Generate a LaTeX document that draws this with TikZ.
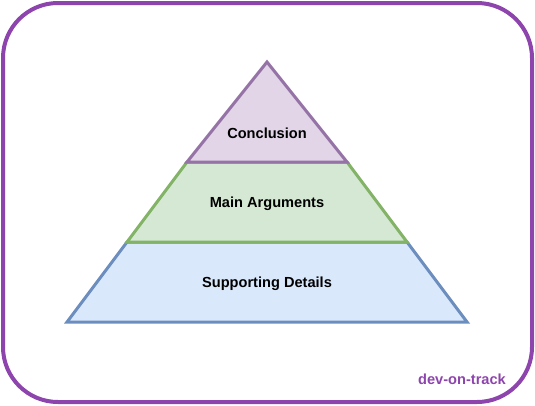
\documentclass[tikz,border=0pt]{standalone}
\usepackage{fontspec}
\setmainfont{Liberation Sans}
\usetikzlibrary{calc}
\definecolor{PyrFrame}{HTML}{8E44AD}
\definecolor{PyrTopFill}{HTML}{E1D5E7}
\definecolor{PyrTopLine}{HTML}{9673A6}
\definecolor{PyrMidFill}{HTML}{D5E8D4}
\definecolor{PyrMidLine}{HTML}{82B366}
\definecolor{PyrLowFill}{HTML}{DAE8FC}
\definecolor{PyrLowLine}{HTML}{6C8EBF}
\tikzset{
    pyr/diagram/.style={
        font=\fontsize{14.6}{17}\selectfont\bfseries,
        line join=miter,
        every node/.style={inner sep=2pt}
    },
    pyr/frame/.style={draw=PyrFrame, line width=4pt, rounded corners=55pt},
    pyr/layer/.style={line width=3pt},
    pyr/top/.style={pyr/layer, fill=PyrTopFill, draw=PyrTopLine},
    pyr/mid/.style={pyr/layer, fill=PyrMidFill, draw=PyrMidLine},
    pyr/low/.style={pyr/layer, fill=PyrLowFill, draw=PyrLowLine},
    pyr/label/.style={text=black},
    pyr/brand/.style={text=PyrFrame}
}
\begin{document}
\begin{tikzpicture}[pyr/diagram, x=1pt, y=-1pt]
    \useasboundingbox (0,0) rectangle (535,405);
    \draw[pyr/frame] (3,3) rectangle (532,402);
    % layers, bottom first
    \draw[pyr/low] (127,242) -- (407,242) -- (467,322) -- (67,322) -- cycle;
    \draw[pyr/mid] (187,162) -- (347,162) -- (407,242) -- (127,242) -- cycle;
    \draw[pyr/top] (267,62) -- (347,162) -- (187,162) -- cycle;
    \node[pyr/label] (conclusion) at (267,133) {Conclusion};
    \node[pyr/label] (arguments) at (267,204) {Main Arguments};
    \node[pyr/label] (details) at (267,284) {Supporting Details};
    \node[pyr/brand] (brand) at (462,379) {dev-on-track};
\end{tikzpicture}
\end{document}
